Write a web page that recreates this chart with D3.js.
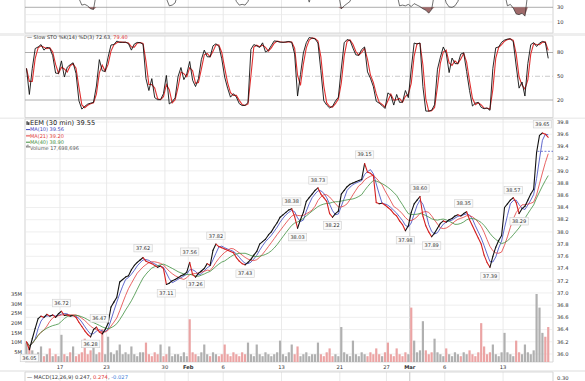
<!DOCTYPE html>
<html><head><meta charset="utf-8">
<script src="https://cdn.jsdelivr.net/npm/d3@7"></script>
<style>
body{margin:0;background:#fff}
svg{display:block}
text{font-family:"DejaVu Sans",sans-serif}
</style>
</head><body>
<svg id="c" width="585" height="381"></svg>
<script>
// ---------------- DATA (EEM, 30-min bars, sampled 4x per trading day) ----------------
// trading days from Jan 11 to Mar 16 (day index 0..44)
const tickDays   = [3, 7, 12, 14, 17, 22, 27, 31, 33, 36, 41];
const tickLabels = ["17","23","30","Feb","6","13","21","27","Mar","6","13"];
const monthTicks = ["Feb","Mar"];

// price (close), 4 samples per day
const price = [
 36.20,36.07,36.25,36.42, 36.58,36.62,36.60,36.65, 36.62,36.64,36.60,36.66, 36.70,36.63,36.64,36.62,
 36.63,36.60,36.52,36.45, 36.38,36.32,36.28,36.40, 36.44,36.36,36.33,36.40, 36.50,36.77,36.85,36.93,
 37.18,37.22,37.26,37.28, 37.38,37.45,37.50,37.54, 37.58,37.52,37.50,37.48, 37.45,37.42,37.44,37.40,
 37.14,37.16,37.20,37.22, 37.25,37.28,37.30,37.34, 37.50,37.30,37.26,37.32, 37.36,37.40,37.48,37.45,
 37.70,37.80,37.76,37.74, 37.72,37.70,37.68,37.66, 37.58,37.52,37.48,37.46, 37.50,37.55,37.62,37.68,
 37.80,37.84,37.88,37.95, 38.00,38.08,38.15,38.24, 38.28,38.32,38.36,38.38, 38.25,38.06,38.20,38.32,
 38.50,38.56,38.62,38.68, 38.72,38.62,38.56,38.50, 38.30,38.24,38.30,38.34, 38.62,38.68,38.74,38.78,
 38.80,38.82,38.84,38.86, 39.12,38.98,38.96,38.92, 38.48,38.46,38.47,38.44, 38.40,38.36,38.30,38.26,
 38.18,38.12,38.02,38.10, 38.32,38.46,38.52,38.58, 38.26,38.10,38.00,37.92, 37.98,38.06,38.14,38.18,
 38.16,38.20,38.22,38.26, 38.28,38.26,38.30,38.33, 38.20,38.10,38.00,37.90, 37.80,37.62,37.50,37.42,
 37.60,37.75,37.86,37.94, 38.40,38.46,38.52,38.56, 38.48,38.30,38.38,38.42, 38.52,38.62,38.70,39.30,
 39.58,39.62,39.60,39.55
];

// volume (millions), 4 samples per day
const volume = [
 10,9,6,4, 5,8,3,4, 7,3,4,3, 14,4,3,5, 8,3,4,5, 12,4,6,9, 4,5,17,4, 13,5,4,6,
 9,4,5,4, 8,4,3,5, 5,10,4,3, 5,4,9,3, 4,8,3,4, 4,3,5,3, 22,5,4,3, 5,9,4,3,
 5,4,3,4, 9,4,3,5, 4,3,5,4, 10,4,3,9, 4,3,5,4, 3,4,5,11, 4,3,5,9, 4,8,3,4,
 5,3,4,4, 10,4,3,5, 7,3,4,3, 18,5,4,3, 11,4,3,5, 4,3,5,4, 7,4,3,5, 10,4,3,7,
 4,3,5,4, 28,11,5,6, 21,6,4,5, 12,5,4,3, 7,4,3,5, 4,3,5,4, 6,4,3,5, 20,8,4,5,
 9,4,3,5, 15,5,4,3, 11,5,4,9, 5,4,6,35, 28,15,13,18
];
// bar colour: g = up (grey), r = down (red)
const volumeDir =
 "grgg"+"ggrg"+"rgrg"+"grgr"+"grrr"+"rrrg"+"grrg"+"gggg"+"gggg"+"gggg"+"grrr"+"rrgr"+
 "rggg"+"gggg"+"rrrg"+"gggr"+"ggrr"+"rrrr"+"rrrr"+"gggg"+"gggg"+"gggg"+"gggg"+"rrgg"+
 "gggg"+"grrr"+"rrgg"+"gggg"+"gggg"+"grrr"+"rrgr"+"rrrr"+"rrrg"+"rggg"+"grrr"+"gggg"+
 "rggg"+"grgg"+"rrrr"+"rrrr"+"gggg"+"gggg"+"rrgg"+"gggg"+"ggrr";

// Slow stochastic %K(14), 4 samples per day
const stochK = [
 60,27,60,85, 87,90,83,86.5, 85.5,76,54,53.5, 69.4,49,61.5,64.6, 67,53.5,19,8.5, 12,14.8,16,17,
 37.7,71,57,56, 74,89.5,90,94.5, 92.7,93,93,91.2, 83,90.7,92.7,92.4, 90.5,47,32,47, 23,20.4,20.4,28,
 51,15,18,22.6, 49.5,61,45.7,53, 68.6,45,37,47, 71,83,74.6,74.5, 88.4,91,88,72, 49,35,23.6,28,
 23.7,15.4,13,13.3, 16.7,84,90,88.4, 86.4,92.2,80.7,82.8, 88.8,94.7,94,93, 92.9,93.3,93.9,92.8,
 78,25,52,79.5, 92.4,98.9,98.1,97.2, 92,57,19,13.6, 10,12,18.6,23.6, 59,92.3,96.4,95.2,
 85.6,77,76.4,83.8, 87,55.5,47.5,37, 18.4,16,13,9.3, 29,26,13.6,27, 17,17.2,32,23,
 59,92,90.7,92.1, 37,6,6,7, 14,58.9,74,87, 79,54.6,73,66, 65.8,78,79.6,56,
 32,12.4,16,17, 10.7,9,10,7, 60,86,87,93, 95.7,96.9,97.4,93.5, 63,35,42.7,25,
 66,89.9,92.5,87.6, 91.9,94,92.8,72.6
];

// RSI(14) (only its lower part is visible; values above ~40 are out of view)
const rsi = [
 50,50,50,50, 50,50,50,50, 50,50,50,50, 50,50,50,50, 50,50,42,33, 34,32,28,27,
 50,50,50,50, 50,50,50,50, 50,50,50,50, 50,50,50,50, 50,50,50,50, 50,50,50,50,
 42,32,33,36, 50,50,50,50, 50,50,50,50, 50,50,50,50, 50,50,50,50, 50,50,50,50,
 38,33,34,33, 38,50,50,50, 50,50,50,50, 50,50,50,50, 50,50,50,50, 50,50,50,50,
 50,37,50,50, 50,50,50,50, 50,50,50,50, 28,32,35,38, 50,50,50,50, 50,50,50,50,
 50,50,50,50, 50,50,50,50, 32,33,32,34, 31,35,33,31, 28,26,22,27, 50,50,50,50,
 36,30.5,30,32, 38,50,50,50, 50,50,50,50, 50,50,50,50, 50,50,50,50, 50,32,34,29,
 21,20,22,18, 50,50,50,50, 50,50,50,50, 50,50,50,50, 50,50,50,50, 50,50,50,50,
 50,50,50,50, 50,50,50,50
];

// price annotations: value, sample index, side
const annoValues = [36.05,36.72,36.28,36.47,37.62,37.11,37.56,37.26,37.82,37.43,38.38,38.03,
                    38.73,38.22,39.15,37.98,38.60,37.89,38.35,37.39,38.57,38.29,39.65];
const annoIndex  = [1,12,22,25,40,48,56,58,65,75,91,93,100,105,116,130,135,139,150,159,167,169,177];
const annoSide   = ["b","t","b","t","t","b","t","b","t","b","t","b","t","b","t","b","t","b","t","b","t","b","t"];

const priceTicks  = [36.0,36.2,36.4,36.6,36.8,37.0,37.2,37.4,37.6,37.8,38.0,38.2,38.4,38.6,38.8,39.0,39.2,39.4,39.6,39.8];
const volumeTicks = [5,10,15,20,25,30,35];
const stochTicks  = [80,50,20];
const rsiTicks    = [30,10];

const maPeriods = ["MA(10)","MA(21)","MA(40)"];
const maLast    = ["39.56","39.20","38.90"];
const maWindow  = [3,7,12];          // bars per window expressed in samples (≈3.25 bars / sample)
const maColors  = ["#3a44c0","#e23c3c","#3f8f3f"];
const lastDashLevel = 39.32;

// ---------------- CHART ----------------
const svg = d3.select("#c");
const L = 25, R = 553;
const x = d3.scaleLinear().domain([0,45]).range([25,549.7]);
const sx = j => x((j + 0.5) / 4);

const yP = d3.scaleLinear().domain([36.0,39.8]).range([354,122]);
const yV = d3.scaleLinear().domain([0,35]).range([362,294]);
const yS = d3.scaleLinear().domain([20,80]).range([100,52.5]);
const yR = d3.scaleLinear().domain([10,30]).range([22,7.3]);

const sma = (a,n) => a.map((_,i)=>d3.mean(a.slice(Math.max(0,i-n+1),i+1)));

// background bands between panels
svg.append("rect").attr("x",0).attr("y",33).attr("width",585).attr("height",3).attr("fill","#eeeeee");
svg.append("rect").attr("x",0).attr("y",117.5).attr("width",585).attr("height",1.5).attr("fill","#eeeeee");
svg.append("rect").attr("x",0).attr("y",370).attr("width",585).attr("height",2).attr("fill","#eeeeee");

const panels = [
  {id:"rsi", y0:-2, y1:33},
  {id:"sto", y0:36, y1:117.5},
  {id:"prc", y0:119, y1:362},
  {id:"macd", y0:372, y1:383}
];
const defs = svg.append("defs");
panels.forEach(p=>{
  defs.append("clipPath").attr("id","clip-"+p.id).append("rect")
    .attr("x",L).attr("y",p.y0).attr("width",R-L).attr("height",p.y1-p.y0);
});

// vertical grid
panels.forEach(p=>{
  svg.append("g").selectAll("line").data(tickDays).join("line")
    .attr("x1",d=>x(d)).attr("x2",d=>x(d)).attr("y1",p.y0).attr("y2",p.y1)
    .attr("stroke",(d,i)=>tickLabels[i]==="Mar" ? "#b8b8b8" : "#e3e3e3").attr("stroke-width",0.8);
});

// panel borders
panels.forEach(p=>{
  svg.append("line").attr("x1",L).attr("x2",L).attr("y1",p.y0).attr("y2",p.y1).attr("stroke","#c8c8c8").attr("stroke-width",0.8);
  svg.append("line").attr("x1",R).attr("x2",R).attr("y1",p.y0).attr("y2",p.y1).attr("stroke","#c8c8c8").attr("stroke-width",0.8);
  svg.append("line").attr("x1",L).attr("x2",R).attr("y1",p.y1).attr("y2",p.y1).attr("stroke","#d0d0d0").attr("stroke-width",0.8);
  svg.append("line").attr("x1",L).attr("x2",R).attr("y1",p.y0).attr("y2",p.y0).attr("stroke","#d0d0d0").attr("stroke-width",0.8);
});

const axisText = (g, data, yf, fmt) => g.selectAll("text").data(data).join("text")
  .attr("x",557).attr("y",d=>yf(d)+1.8).attr("font-size",5.2).attr("fill","#333").text(fmt);

// ---- RSI panel (top, clipped) ----
const gR = svg.append("g").attr("clip-path","url(#clip-rsi)");
gR.selectAll("line.h").data([20,10]).join("line").attr("class","h")
  .attr("x1",L).attr("x2",R).attr("y1",d=>yR(d)).attr("y2",d=>yR(d)).attr("stroke","#e6e6e6").attr("stroke-width",0.7);
gR.append("line").attr("x1",L).attr("x2",R).attr("y1",yR(30)).attr("y2",yR(30)).attr("stroke","#999").attr("stroke-width",0.8);
gR.append("path").datum(rsi)
  .attr("d",d3.area().x((d,j)=>sx(j)).y0(yR(30)).y1(d=>yR(Math.min(d,30))))
  .attr("fill","#8e5050").attr("opacity",0.85);
gR.append("path").datum(rsi)
  .attr("d",d3.line().x((d,j)=>sx(j)).y(d=>yR(d)))
  .attr("fill","none").attr("stroke","#333").attr("stroke-width",0.7);
axisText(svg.append("g"), rsiTicks, yR, d=>d);

// ---- Stochastic panel ----
const gS = svg.append("g").attr("clip-path","url(#clip-sto)");
gS.selectAll("line.h").data([80,20]).join("line").attr("class","h")
  .attr("x1",L).attr("x2",R).attr("y1",d=>yS(d)).attr("y2",d=>yS(d)).attr("stroke","#999").attr("stroke-width",0.8);
gS.append("line").attr("x1",L).attr("x2",R).attr("y1",yS(50)).attr("y2",yS(50))
  .attr("stroke","#bbb").attr("stroke-width",0.8).attr("stroke-dasharray","5,2,1,2");
const stochD = sma(stochK,2);
gS.append("path").datum(stochD)
  .attr("d",d3.line().x((d,j)=>sx(j)).y(d=>yS(d)))
  .attr("fill","none").attr("stroke","#e03030").attr("stroke-width",1.1);
gS.append("path").datum(stochK)
  .attr("d",d3.line().x((d,j)=>sx(j)).y(d=>yS(d)))
  .attr("fill","none").attr("stroke","#111").attr("stroke-width",0.9);
axisText(svg.append("g"), stochTicks, yS, d=>d);

const sh = svg.append("text").attr("x",27).attr("y",39.3).attr("font-size",5).attr("fill","#333");
sh.append("tspan").text("\u2014 Slow STO %K(14) %D(3) 72.63, ");
sh.append("tspan").attr("fill","#e03030").text("79.40");

// ---- Price panel ----
const gP = svg.append("g").attr("clip-path","url(#clip-prc)");
gP.selectAll("line.h").data(priceTicks).join("line").attr("class","h")
  .attr("x1",L).attr("x2",R).attr("y1",d=>yP(d)).attr("y2",d=>yP(d)).attr("stroke","#e8e8e8").attr("stroke-width",0.7);

// volume
gP.selectAll("rect.v").data(volume).join("rect").attr("class","v")
  .attr("x",(d,j)=>sx(j)-1.1).attr("width",2.2)
  .attr("y",d=>yV(d)).attr("height",d=>yV(0)-yV(d))
  .attr("fill",(d,j)=>volumeDir[j]==="r" ? "#eba4a4" : "#b0b0b0");

// moving averages
maWindow.forEach((n,i)=>{
  gP.append("path").datum(sma(price,n))
    .attr("d",d3.line().x((d,j)=>sx(j)).y(d=>yP(d)))
    .attr("fill","none").attr("stroke",maColors[i]).attr("stroke-width",0.8);
});
gP.append("line").attr("x1",x(43.95)).attr("x2",R).attr("y1",yP(lastDashLevel)).attr("y2",yP(lastDashLevel))
  .attr("stroke","#3a44c0").attr("stroke-width",0.7).attr("stroke-dasharray","2,1.5");

// price segments
const segs = d3.range(1,price.length).map(j=>({j, a:price[j-1], b:price[j]}));
gP.selectAll("line.p").data(segs).join("line").attr("class","p")
  .attr("x1",d=>sx(d.j-1)).attr("x2",d=>sx(d.j))
  .attr("y1",d=>yP(d.a)).attr("y2",d=>yP(d.b))
  .attr("stroke",d=>d.b<d.a ? "#d42020" : "#111").attr("stroke-width",1.1).attr("stroke-linecap","round");

// annotations
const ga = svg.append("g");
annoValues.forEach((v,i)=>{
  const cx = sx(annoIndex[i]);
  const cy = yP(v) + (annoSide[i]==="t" ? -7 : 7);
  const g = ga.append("g");
  const t = g.append("text").attr("x",cx).attr("y",cy+1.8).attr("text-anchor","middle")
    .attr("font-size",5).attr("fill","#333").text(v.toFixed(2));
  const w = t.node().getComputedTextLength()+4;
  g.insert("rect","text").attr("x",cx-w/2).attr("y",cy-3.8).attr("width",w).attr("height",7.6)
    .attr("fill","#fafafa").attr("stroke","#cfcfcf").attr("stroke-width",0.6);
});

axisText(svg.append("g"), priceTicks, yP, d=>d.toFixed(1));

// volume axis (left)
svg.append("g").selectAll("text").data(volumeTicks).join("text")
  .attr("x",22).attr("y",d=>yV(d)+1.8).attr("text-anchor","end").attr("font-size",5.2).attr("fill","#333")
  .text(d=>d+"M");

// date labels
svg.append("g").selectAll("text").data(tickDays).join("text")
  .attr("x",d=>x(d)).attr("y",368.6).attr("text-anchor","middle").attr("font-size",5.2)
  .attr("font-weight",(d,i)=>monthTicks.includes(tickLabels[i]) ? "bold" : "normal")
  .attr("fill","#333").text((d,i)=>tickLabels[i]);

// legend
const lg = svg.append("g");
lg.append("rect").attr("x",26.5).attr("y",121.3).attr("width",1.2).attr("height",3.6).attr("fill","#222");
lg.append("rect").attr("x",28.2).attr("y",122.2).attr("width",1.2).attr("height",2.8).attr("fill","#222");
lg.append("text").attr("x",30).attr("y",125.4).attr("font-size",6.6).attr("fill","#222").text("EEM (30 min) 39.55");
maPeriods.forEach((m,i)=>{
  const yy = 131.2 + i*6.3;
  lg.append("line").attr("x1",26).attr("x2",30).attr("y1",yy-1.6).attr("y2",yy-1.6).attr("stroke",maColors[i]).attr("stroke-width",1);
  lg.append("text").attr("x",30).attr("y",yy).attr("font-size",5).attr("fill",maColors[i]).text(m+" "+maLast[i]);
});
[0,1,2].forEach(k=>lg.append("rect").attr("x",26.3+k*1.2).attr("y",147.6-[2,3,1.6][k]).attr("width",0.9)
  .attr("height",[2,3,1.6][k]).attr("fill","#666"));
lg.append("text").attr("x",30).attr("y",150.1).attr("font-size",5).attr("fill","#555").text("Volume 17,698,696");

// MACD header
const mh = svg.append("text").attr("x",27).attr("y",379.2).attr("font-size",5.2).attr("fill","#333");
mh.append("tspan").text("\u2014 MACD(12,26,9) 0.247, ");
mh.append("tspan").attr("fill","#e03030").text("0.274");
mh.append("tspan").text(", ");
mh.append("tspan").attr("fill","#3a7ad8").text("-0.027");
svg.append("text").attr("x",557).attr("y",380).attr("font-size",5.2).attr("fill","#333").text("0.30");
</script>
</body></html>
